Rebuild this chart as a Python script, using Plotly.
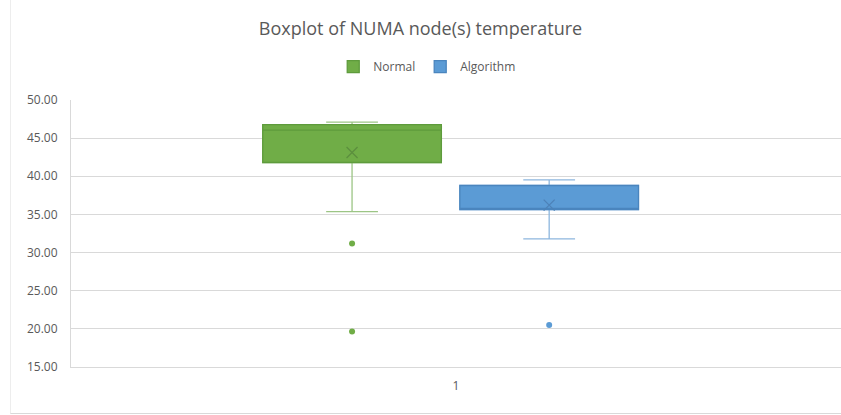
import plotly.graph_objects as go

# ---- data ----
series = ["Normal", "Algorithm"]
lower_whisker = [35.38, 31.80]
q1 = [41.81, 35.64]
median = [46.06, 35.80]
q3 = [46.76, 38.79]
upper_whisker = [47.11, 39.54]
means = [43.12, 36.22]
outliers = [[31.20, 19.65], [20.51]]
category_labels = ["1"]

# ---- styling ----
fill_colors = ["#70AD47", "#5B9BD5"]
border_colors = ["#5E9B3C", "#4A85BE"]
whisker_colors = ["#9CC585", "#8DB6DE"]
mean_colors = ["#5C8F3E", "#4D82B8"]
positions = [0.730, 1.242]
box_width = 0.464

fig = go.Figure()

for i, name in enumerate(series):
    # full box (carries the light whiskers)
    fig.add_trace(go.Box(
        x=[positions[i]], q1=[q1[i]], median=[median[i]], q3=[q3[i]],
        lowerfence=[lower_whisker[i]], upperfence=[upper_whisker[i]],
        width=box_width, whiskerwidth=0.29,
        fillcolor=fill_colors[i], line=dict(color=whisker_colors[i], width=1.3),
        boxpoints=False, showlegend=False, hoverinfo="skip", name=name,
    ))
    # box body drawn on top with darker border & median
    fig.add_trace(go.Box(
        x=[positions[i]], q1=[q1[i]], median=[median[i]], q3=[q3[i]],
        lowerfence=[q1[i]], upperfence=[q3[i]],
        width=box_width, whiskerwidth=0,
        fillcolor=fill_colors[i], line=dict(color=border_colors[i], width=1.3),
        boxpoints=False, showlegend=True, name=name,
    ))
    # mean marker
    fig.add_trace(go.Scatter(
        x=[positions[i]], y=[means[i]], mode="markers",
        marker=dict(symbol="x-thin", size=11, line=dict(color=mean_colors[i], width=1.3)),
        showlegend=False, hoverinfo="skip",
    ))
    # outliers
    fig.add_trace(go.Scatter(
        x=[positions[i]] * len(outliers[i]), y=outliers[i], mode="markers",
        marker=dict(symbol="circle", size=6, color=fill_colors[i]),
        showlegend=False, hoverinfo="skip",
    ))

fig.update_layout(
    width=841, height=415,
    margin=dict(l=71, r=0, t=100, b=48),
    paper_bgcolor="white", plot_bgcolor="white",
    boxmode="overlay",
    font=dict(family="Open Sans", color="#595959", size=12),
    title=dict(text="Boxplot of NUMA node(s) temperature", x=0.5, xanchor="center",
               y=0.932, yanchor="middle",
               font=dict(family="Open Sans", size=18, color="#595959")),
    legend=dict(orientation="h", x=0.462, xanchor="center", y=1.125, yanchor="middle",
                font=dict(size=12, color="#595959"), itemwidth=30,
                bgcolor="rgba(0,0,0,0)"),
    xaxis=dict(range=[0, 2], tickvals=[1], ticktext=category_labels,
               showgrid=False, zeroline=False, showline=True,
               linecolor="#D9D9D9", linewidth=1, ticks="", ticklabelstandoff=8,
               tickfont=dict(size=12, color="#595959")),
    yaxis=dict(range=[15, 50], dtick=5, tick0=15, tickformat=".2f",
               showgrid=True, gridcolor="#D9D9D9", gridwidth=1,
               zeroline=False, showline=True, linecolor="#D9D9D9", linewidth=1,
               ticks="", ticklabelstandoff=10,
               tickfont=dict(size=12, color="#595959")),
    shapes=[
        dict(type="line", xref="paper", yref="paper",
             x0=(10 - 71) / 770, x1=1.0, y0=(367 - 413.5) / 267, y1=(367 - 413.5) / 267,
             line=dict(color="#D9D9D9", width=1)),
        dict(type="line", xref="paper", yref="paper",
             x0=(10.5 - 71) / 770, x1=(10.5 - 71) / 770, y0=(367 - 413.5) / 267, y1=(367 - 0) / 267,
             line=dict(color="#EDEDED", width=1)),
    ],
)

fig.write_html("out.html")
